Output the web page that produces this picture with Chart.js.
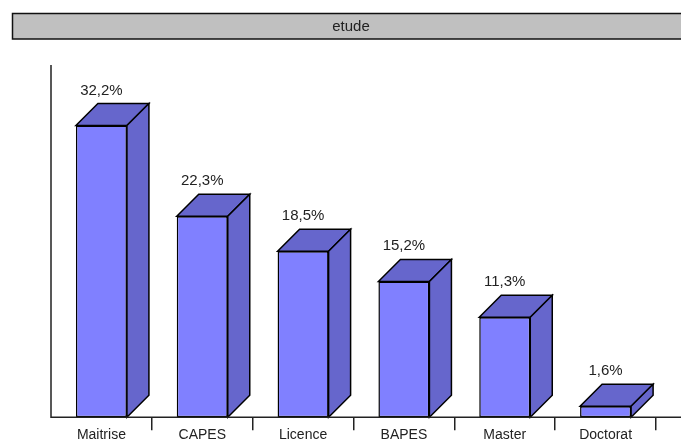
<!DOCTYPE html>
<html>
<head>
<meta charset="utf-8">
<script src="https://cdn.jsdelivr.net/npm/chart.js@4"></script>
<style>
    html, body { margin: 0; padding: 0; background: #fff; }
    #wrap { width: 681px; height: 441px; position: relative; }
</style>
</head>
<body>
<div id="wrap"><canvas id="etudeChart"></canvas></div>
<script>
// Répartition par niveau d'étude (%)
const categories = ["Maitrise", "CAPES", "Licence", "BAPES", "Master", "Doctorat"];
const valeurs = [32.2, 22.3, 18.5, 15.2, 11.3, 1.6];
const titre = "etude";

const FONT = "'Liberation Sans', Arial, sans-serif";
const DEPTH = 22;   // profondeur de l'effet 3D
const Y_MIN = 0.4;  // le sol 3D est un peu au-dessus du zéro

// Bandeau gris du titre + axes prolongés
const cadrePlugin = {
    id: "cadre",
    beforeDraw(chart) {
        const { ctx, width } = chart;
        ctx.save();
        ctx.fillStyle = "#c0c0c0";
        ctx.fillRect(12, 13, width + 20, 26);
        ctx.strokeStyle = "#111";
        ctx.lineWidth = 1.5;
        ctx.strokeRect(12.5, 13.5, width + 20, 25.5);
        ctx.fillStyle = "#222";
        ctx.font = "15px " + FONT;
        ctx.textAlign = "center";
        ctx.textBaseline = "middle";
        ctx.fillText(titre, 351, 26.5);
        ctx.restore();
    },
    afterDraw(chart) {
        const { ctx, chartArea, width } = chart;
        ctx.save();
        ctx.strokeStyle = "#222";
        ctx.lineWidth = 1.5;
        ctx.beginPath();
        ctx.moveTo(chartArea.left, chartArea.top);
        ctx.lineTo(chartArea.left, chartArea.bottom);
        ctx.lineTo(width, chartArea.bottom);
        ctx.stroke();
        ctx.restore();
    }
};

// Faces du dessus et de côté + étiquettes de valeur
const barres3dPlugin = {
    id: "barres3d",
    afterDatasetsDraw(chart) {
        const { ctx } = chart;
        const meta = chart.getDatasetMeta(0);
        ctx.save();
        ctx.lineWidth = 1.5;
        ctx.strokeStyle = "#000";
        ctx.lineJoin = "miter";
        meta.data.forEach((bar, i) => {
            const { x, y, base, width } = bar.getProps(["x", "y", "base", "width"], true);
            const l = x - width / 2, r = x + width / 2;

            // dessus
            ctx.fillStyle = "#6666cc";
            ctx.beginPath();
            ctx.moveTo(l, y);
            ctx.lineTo(l + DEPTH, y - DEPTH);
            ctx.lineTo(r + DEPTH, y - DEPTH);
            ctx.lineTo(r, y);
            ctx.closePath();
            ctx.fill();
            ctx.stroke();

            // côté
            ctx.beginPath();
            ctx.moveTo(r, y);
            ctx.lineTo(r + DEPTH, y - DEPTH);
            ctx.lineTo(r + DEPTH, base - DEPTH);
            ctx.lineTo(r, base);
            ctx.closePath();
            ctx.fill();
            ctx.stroke();

            // valeur
            ctx.fillStyle = "#222";
            ctx.font = "15px " + FONT;
            ctx.textAlign = "center";
            ctx.textBaseline = "alphabetic";
            ctx.fillText(valeurs[i].toFixed(1).replace(".", ",") + "%", x, y - DEPTH - 9);
        });
        ctx.restore();
    }
};

new Chart(document.getElementById("etudeChart"), {
    type: "bar",
    plugins: [cadrePlugin, barres3dPlugin],
    data: {
        labels: categories,
        datasets: [{
            label: titre,
            data: valeurs,
            base: Y_MIN,
            backgroundColor: "#8080ff",
            borderColor: "#000",
            borderWidth: 1.5,
            borderSkipped: false,
            categoryPercentage: 1,
            barPercentage: 0.506
        }]
    },
    options: {
        responsive: true,
        maintainAspectRatio: false,
        animation: false,
        layout: { padding: { top: 65, left: 51, right: 25, bottom: 0 } },
        plugins: {
            legend: { display: false },
            title: { display: false },
            tooltip: { enabled: false }
        },
        scales: {
            x: {
                border: { display: false },
                grid: {
                    offset: true,
                    drawOnChartArea: false,
                    drawTicks: true,
                    tickLength: 13,
                    lineWidth: 1.5,
                    color: ctx => ctx.index === 0 ? "transparent" : "#222"
                },
                ticks: {
                    padding: -3,
                    color: "#222",
                    font: { family: FONT, size: 14 }
                }
            },
            y: {
                display: false,
                min: Y_MIN,
                max: 38.8
            }
        }
    }
});
</script>
</body>
</html>
